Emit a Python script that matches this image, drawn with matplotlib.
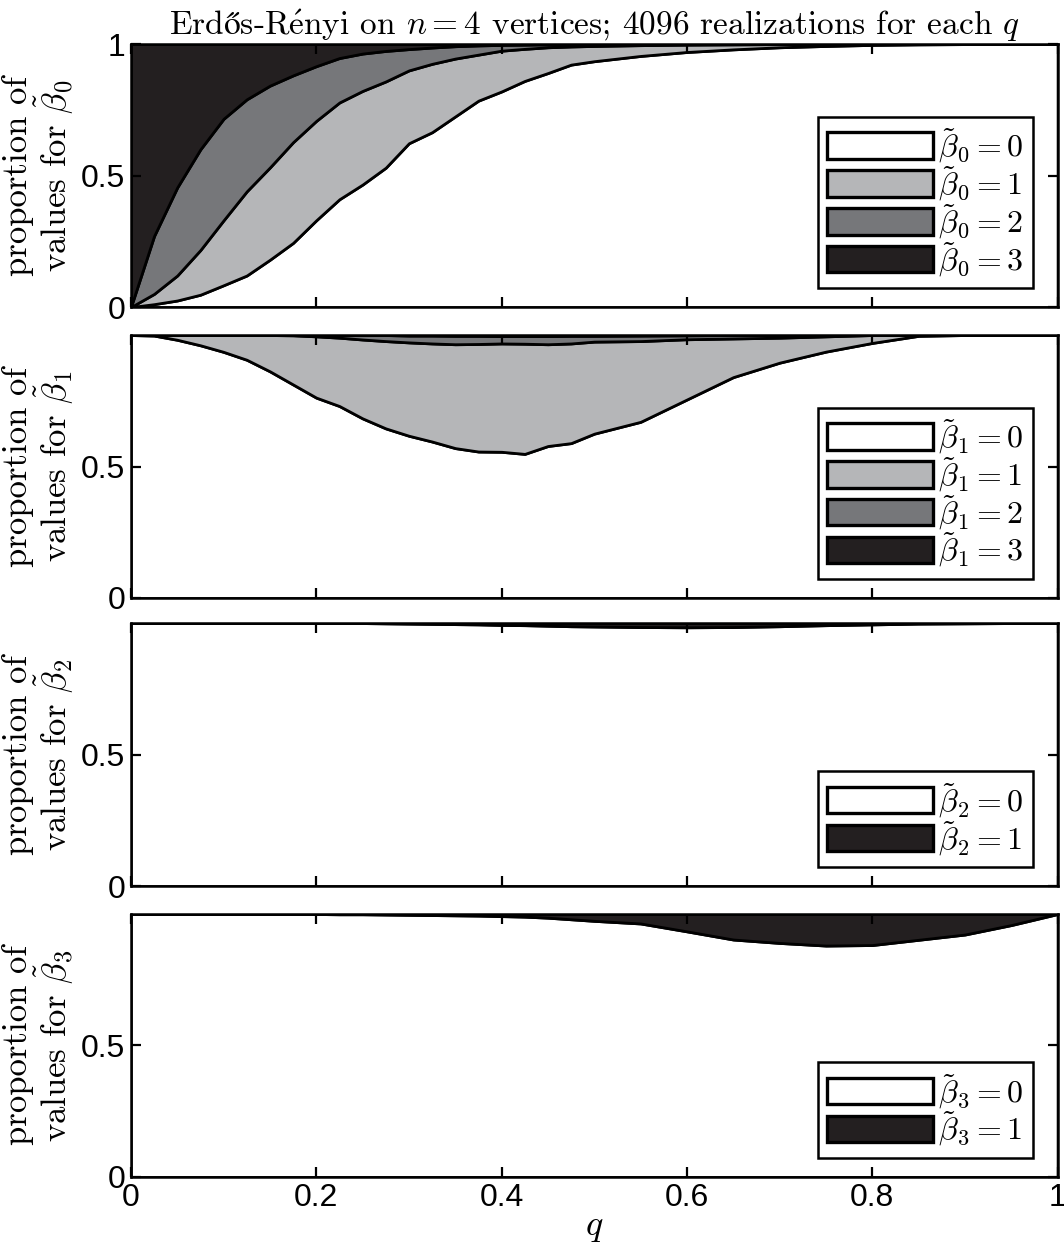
import matplotlib
matplotlib.use('Agg')
import matplotlib.pyplot as plt
import numpy as np

plt.rcParams['mathtext.fontset'] = 'cm'
plt.rcParams['axes.linewidth'] = 1.8

# edge probability grid
q = [0, 0.025, 0.05, 0.075, 0.1, 0.125, 0.15, 0.175, 0.2, 0.225, 0.25, 0.275,
     0.3, 0.325, 0.35, 0.375, 0.4, 0.425, 0.45, 0.475, 0.5, 0.55, 0.6, 0.65,
     0.7, 0.75, 0.8, 0.85, 0.9, 0.95, 1]

# proportions for beta_0 = 0,1,2,3
b0_0 = [0, .011, .025, .047, .083, .120, .180, .244, .330, .410, .466, .530,
        .623, .665, .725, .785, .820, .860, .890, .922, .935, .955, .970, .980,
        .988, .993, .997, .999, 1, 1, 1]
b0_1 = [0, .039, .095, .170, .247, .320, .351, .383, .378, .368, .356, .328,
        .277, .260, .220, .175, .155, .122, .098, .069, .058, .041, .028, .019,
        .012, .007, .003, .001, 0, 0, 0]
b0_2 = [0, .220, .335, .383, .386, .350, .311, .254, .208, .169, .142, .116,
        .081, .062, .047, .035, .022, .016, .011, .009, .007, .004, .002, .001,
        0, 0, 0, 0, 0, 0, 0]
b0_3 = [1, .730, .545, .400, .284, .210, .158, .119, .084, .053, .036, .026,
        .019, .013, .008, .005, .003, .002, .001, 0, 0, 0, 0, 0,
        0, 0, 0, 0, 0, 0, 0]

# proportions for beta_1 = 0,1,2,3
b1_0 = [1, .998, .982, .961, .936, .906, .862, .812, .762, .730, .683, .645,
        .617, .595, .570, .557, .556, .548, .578, .589, .625, .670, .755, .840,
        .895, .937, .970, .997, 1, 1, 1]
b1_1 = [0, .002, .018, .039, .064, .094, .138, .187, .233, .260, .300, .332,
        .355, .373, .395, .409, .412, .419, .387, .379, .350, .307, .229, .147,
        .095, .058, .030, .003, 0, 0, 0]
b1_2 = [0, 0, 0, 0, 0, 0, 0, .001, .005, .010, .017, .023,
        .026, .030, .032, .031, .028, .029, .031, .029, .022, .021, .015, .013,
        .010, .005, 0, 0, 0, 0, 0]
b1_3 = [0, 0, 0, 0, 0, 0, 0, 0, 0, 0, 0, 0,
        .002, .002, .003, .003, .004, .004, .004, .003, .003, .002, .001, 0,
        0, 0, 0, 0, 0, 0, 0]

# proportions for beta_2 = 1 (rest is 0)
b2_1 = [0, 0, 0, 0, 0, 0, 0, 0, 0, 0, 0, .001,
        .002, .003, .004, .005, .007, .008, .010, .012, .013, .015, .016, .015,
        .012, .008, .005, .002, .001, 0, 0]

# proportions for beta_3 = 1 (rest is 0)
b3_1 = [0, 0, 0, 0, 0, 0, 0, 0, 0, .001, .001, .002,
        .003, .004, .005, .006, .008, .010, .014, .020, .026, .036, .066, .097,
        .110, .120, .118, .098, .078, .042, 0]

grays = ['#ffffff', '#b5b6b8', '#76777a', '#231f20']
serif = ['cmr10', 'DejaVu Serif']

fig = plt.figure(figsize=(10.64, 12.6), dpi=100)
bottoms = [0.7563, 0.5254, 0.2968, 0.0659]
panels = [
    (0, [b0_0, b0_1, b0_2, b0_3], grays),
    (1, [b1_0, b1_1, b1_2, b1_3], grays),
    (2, [[1 - v for v in b2_1], b2_1], [grays[0], grays[3]]),
    (3, [[1 - v for v in b3_1], b3_1], [grays[0], grays[3]]),
]

for k, (idx, series, cols) in enumerate(panels):
    ax = fig.add_axes([0.123, bottoms[k], 0.871, 0.2087])
    labels = [r'$\tilde{\beta}_%d = \mathbf{%d}$' % (idx, j) for j in range(len(series))]
    ax.stackplot(q, *series, colors=cols, labels=labels,
                 edgecolor='k', linewidth=2.0)
    ax.set_xlim(0, 1)
    ax.set_ylim(0, 1)
    ax.set_xticks([0, 0.2, 0.4, 0.6, 0.8, 1])
    if k == 0:
        ax.set_yticks([0, 0.5, 1])
        ax.set_yticklabels(['0', '0.5', '1'])
    else:
        ax.set_yticks([0, 0.5])
        ax.set_yticklabels(['0', '0.5'])
    ax.tick_params(direction='in', length=7, width=1.6, top=True, right=True,
                   labelsize=23, pad=4)
    for lab in ax.get_yticklabels() + ax.get_xticklabels():
        lab.set_fontfamily('Liberation Sans')
    if k < 3:
        ax.set_xticklabels([])
    else:
        ax.set_xticklabels(['0', '0.2', '0.4', '0.6', '0.8', '1'])
        ax.set_xlabel(r'$q$', fontsize=26, labelpad=-2)
    ax.set_ylabel('proportion of\nvalues for ' + r'$\tilde{\beta}_%d$' % idx,
                  fontsize=25, family=serif, linespacing=0.95, labelpad=4)
    leg = ax.legend(loc='lower right', bbox_to_anchor=(0.973, 0.072),
                    borderaxespad=0, fontsize=23, fancybox=False,
                    handlelength=3.3, handleheight=0.9, labelspacing=-0.03,
                    handletextpad=0.15, borderpad=0.3, framealpha=1)
    leg.get_frame().set_edgecolor('k')
    leg.get_frame().set_linewidth(1.8)
    for h in leg.legend_handles:
        h.set_linewidth(2.4)
    if k == 0:
        ax.set_title(r'Erd$\mathrm{ő}$s-R$\acute{\mathrm{e}}$nyi on $n = 4$ vertices; '
                     r'4096 realizations for each $q$',
                     fontsize=24, family=serif, pad=5)

fig.savefig('out.png', dpi=100)
